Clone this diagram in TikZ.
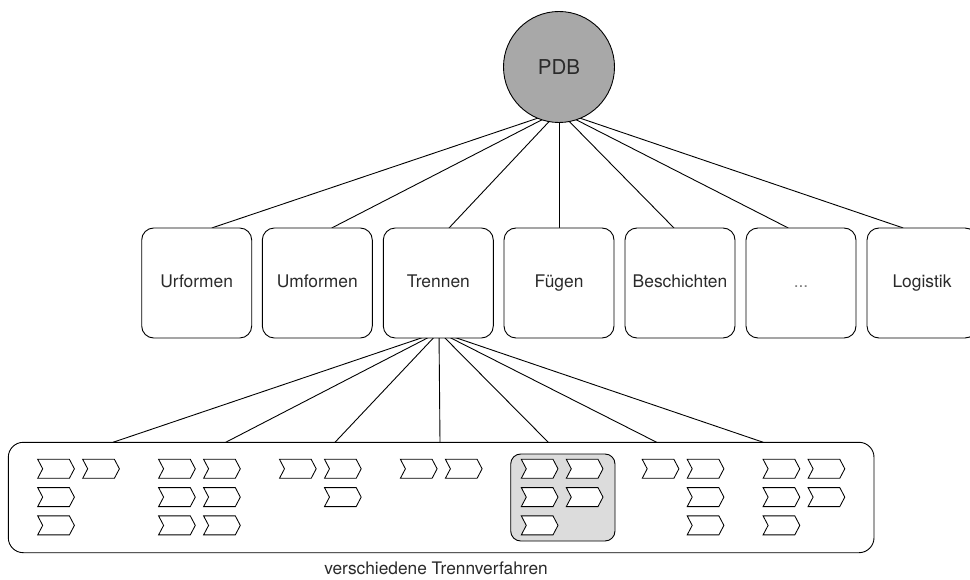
\documentclass[tikz,border=0pt]{standalone}
\usepackage{fontspec}
\setmainfont{TeX Gyre Heros}
\definecolor{pdbgray}{HTML}{A8A8A8}
\definecolor{selgray}{HTML}{DCDCDC}
\definecolor{txt}{HTML}{2A2A2A}
\begin{document}
\begin{tikzpicture}[x=1pt,y=-1pt,line width=0.9pt,
  catbox/.style={draw, rounded corners=12pt, minimum width=110pt, minimum height=110pt, fill=white, inner sep=0pt, text=txt, text height=12.5pt, text depth=3.5pt, font=\fontsize{17.4}{20}\selectfont},
  conn/.style={line width=0.9pt},
  chev/.pic={\draw[fill=white,line width=0.85pt] (0,0) -- (31.7,0) -- (36.7,9.5) -- (31.7,19) -- (0,19) -- (5,9.5) -- cycle;}]
\useasboundingbox (0,0) rectangle (970,580);

% hubs (hidden inside nodes)
\coordinate (hubA) at (559,111);
\coordinate (hubB) at (439,332);

% category boxes positions
\coordinate (pUrf) at (196.7,283);
\coordinate (pUmf) at (317.3,283);
\coordinate (pTre) at (438.3,283);
\coordinate (pFue) at (559,283);
\coordinate (pBes) at (680,283);
\coordinate (pDot) at (801,283);
\coordinate (pLog) at (922,283);

% bottom container
\coordinate (bTL) at (8.3,442.3);
\coordinate (bBR) at (874,552.7);

% connectors from PDB
\foreach \x in {211.7,331.7,449,559,674,788.3,903.3}
  \draw[conn] (hubA) -- (\x,228);
% connectors from Trennen
\foreach \x in {113,225.7,335,440,548.3,656.7,763.3}
  \draw[conn] (hubB) -- (\x,442.3);

% PDB circle
\node[circle, draw, fill=pdbgray, minimum size=111pt, inner sep=0pt, text=txt, font=\fontsize{20.5}{24}\selectfont] (pdb) at (559,67) {PDB};

% category boxes
\node[catbox] (urf) at (pUrf) {Urformen};
\node[catbox] (umf) at (pUmf) {Umformen};
\node[catbox] (tre) at (pTre) {Trennen};
\node[catbox] (fue) at (pFue) {Fügen};
\node[catbox] (bes) at (pBes) {Beschichten};
\node[catbox, text=black!50] (dots) at (pDot) {...};
\node[catbox] (log) at (pLog) {Logistik};

% container
\draw[fill=white, rounded corners=15pt] (bTL) rectangle (bBR);

% highlighted group
\draw[fill=selgray, rounded corners=10pt] (510.7,454) rectangle (615,541);

% chevrons
\foreach \g/\c/\r in {0/0/0,0/1/0,0/0/1,0/0/2,
  1/0/0,1/1/0,1/0/1,1/1/1,1/0/2,1/1/2,
  2/0/0,2/1/0,2/1/1,
  3/0/0,3/1/0,
  4/0/0,4/1/0,4/0/1,4/1/1,4/0/2,
  5/0/0,5/1/0,5/1/1,5/1/2,
  6/0/0,6/1/0,6/0/1,6/1/1,6/0/2}
  \pic at ({37.7+120.9*\g+45*\c},{459.3+28.3*\r}) {chev};

% caption
\node[text=txt, font=\fontsize{17.3}{20}\selectfont] (cap) at (436,568) {verschiedene Trennverfahren};
\end{tikzpicture}
\end{document}
